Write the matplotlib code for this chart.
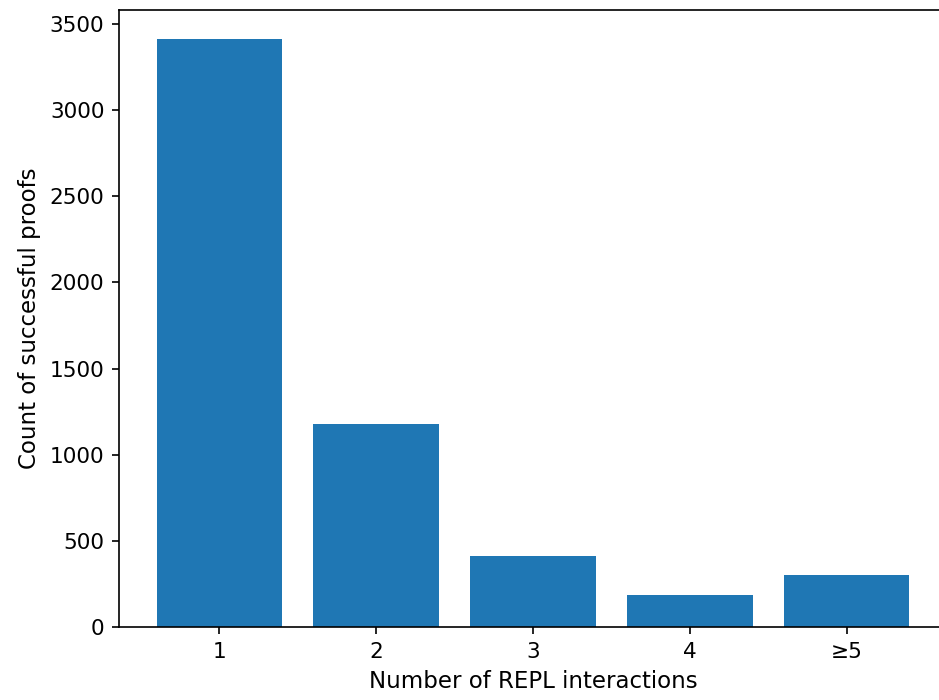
import matplotlib
matplotlib.use("Agg")
import matplotlib.pyplot as plt

categories = ["1", "2", "3", "4", "≥5"]
counts = [3413, 1176, 410, 188, 304]

fig = plt.figure(figsize=(939/150, 700/150), dpi=150)
ax = fig.add_axes([119/939, 73/700, 828/939, (627-9.5)/700])
ax.bar(range(len(categories)), counts, color="#1f77b4", width=0.8)
ax.set_xticks(range(len(categories)))
ax.set_xticklabels(categories)
ax.tick_params(labelsize=10.4)
ax.set_xlabel("Number of REPL interactions", fontsize=11)
ax.set_ylabel("Count of successful proofs", fontsize=11)
fig.savefig("out.png", dpi=150)
